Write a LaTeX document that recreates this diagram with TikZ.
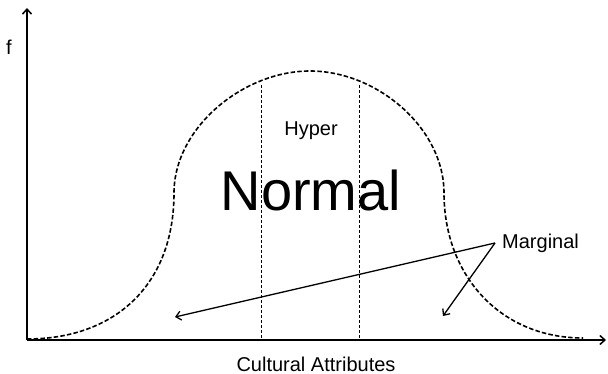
\documentclass[tikz,border=0pt]{standalone}
\usepackage{fontspec}
\setmainfont{Liberation Sans}
\usetikzlibrary{arrows.meta}
\begin{document}
\begin{tikzpicture}[x=1pt,y=-1pt,
  axis/.style={line width=1.6pt,-{Straight Barb[length=5pt,width=9pt,line width=1.5pt]}},
  curve/.style={line width=1.6pt,dash pattern=on 4.5pt off 2.2pt},
  divider/.style={line width=0.8pt,dash pattern=on 3pt off 2pt},
  pointer/.style={line width=1.3pt,-{Straight Barb[length=5pt,width=9pt,line width=1.3pt]}},
  lbl/.style={inner sep=0pt,font=\fontsize{20}{22}\selectfont}]
\useasboundingbox (0,0) rectangle (608,374);
\coordinate (o) at (27,340);
\coordinate (ytop) at (27,8);
\coordinate (xend) at (606,340);
\draw[axis] (o) -- (ytop);
\draw[axis] (o) -- (xend);
\node[lbl] (f) at (9,47) {f};
\node[lbl] (xl) at (316,364) {Cultural Attributes};
\coordinate (c0) at (27,339);
\coordinate (c1) at (174,193);
\coordinate (c2) at (310,71);
\coordinate (c3) at (444,193);
\coordinate (c4) at (583,338);
\draw[curve] (c0) .. controls (115,339) and (174,285) .. (c1)
  .. controls (174,128) and (243,71) .. (c2)
  .. controls (377,71) and (444,128) .. (c3)
  .. controls (444,275) and (500,338) .. (c4);
\coordinate (d1t) at (261,85);
\coordinate (d1b) at (261,340);
\coordinate (d2t) at (359,85);
\coordinate (d2b) at (359,340);
\draw[divider] (d1t) -- (d1b);
\draw[divider] (d2t) -- (d2b);
\node[lbl] (hyper) at (311,131) {Hyper};
\node[inner sep=0pt,font=\fontsize{56}{60}\selectfont] (normal) at (311,190) {Normal};
\node[anchor=west,inner xsep=7pt,inner ysep=0pt,font=\fontsize{20}{22}\selectfont] (marg) at (495,243) {Marginal};
\coordinate (t1) at (175,317);
\coordinate (t2) at (443,316);
\draw[pointer] (marg.west) -- (t1);
\draw[pointer] (marg.west) -- (t2);
\end{tikzpicture}
\end{document}
